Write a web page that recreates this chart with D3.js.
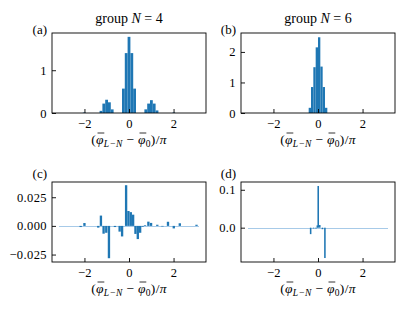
<!DOCTYPE html>
<html>
<head>
<meta charset="utf-8">
<script src="https://cdn.jsdelivr.net/npm/d3@7"></script>
<style>
  body { margin: 0; background: #fff; }
  text { font-family: "Liberation Serif", serif; fill: #000; }
</style>
</head>
<body>
<svg id="fig" width="407" height="313"></svg>
<script>
// histogram data, x in units of pi
var xLimit = [-3.456, 3.456];
var xTicks = [-2, 0, 2];

// (a) group N = 4, density
var aCenters = [-2.01, -1.257, -1.131, -1.005, -0.880, -0.754, -0.251, -0.126, 0, 0.126, 0.251, 0.754, 0.880, 1.005, 1.131, 1.257, 2.01];
var aValues  = [0.01, 0.05, 0.22, 0.31, 0.25, 0.085, 0.57, 1.40, 1.78, 1.40, 0.57, 0.085, 0.22, 0.30, 0.22, 0.06, 0.01];
var aWidth = 0.1257;
var aTicks = [0, 1];

// (b) group N = 6, density
var bCenters = [-0.366, -0.262, -0.157, -0.052, 0.052, 0.157, 0.262, 0.366];
var bValues  = [0.17, 0.85, 1.50, 2.15, 2.48, 1.52, 0.85, 0.17];
var bWidth = 0.1047;
var bTicks = [0, 1, 2];

// (c) difference for N = 4
var cCenters = [-2.17, -2.0, -1.38, -1.26, -1.14, -1.02, -0.90, -0.63, -0.42, -0.31, -0.13, -0.025, 0.08, 0.185, 0.29, 0.395, 0.50, 0.61, 0.72, 0.87, 0.99, 1.27, 1.5, 1.75, 2.01, 2.28, 3.03];
var cValues  = [-0.001, 0.0025, -0.0015, 0.009, -0.0068, -0.006, -0.0282, -0.001, -0.005, -0.0092, 0.0355, 0.013, 0.012, 0.0098, -0.007, -0.0115, -0.006, -0.0007, 0.0006, 0.0037, 0.0026, 0.001, -0.0005, 0.0036, -0.0022, 0.0023, 0.001];
var cWidth = 0.105;
var cTicks = [-0.025, 0, 0.025];

// (d) difference for N = 6
var dCenters = [-0.33, -0.2, -0.09, -0.03, 0.01, 0.08, 0.2, 0.31];
var dValues  = [-0.017, -0.002, -0.002, 0.006, 0.11, 0.007, -0.004, -0.08];
var dWidth = 0.07;
var dTicks = [0, 0.1];

var blue = "#1f77b4";
var pale = "#a7cae8";
var svg = d3.select("#fig");

function panel(opt) {
  var x = d3.scaleLinear().domain(xLimit).range([opt.left, opt.left + 154]);
  var y = d3.scaleLinear().domain(opt.yDomain).range([opt.top + 80, opt.top]);
  var g = svg.append("g");

  if (opt.zeroLine) {
    // faint baseline spanning -pi..pi
    g.append("rect")
      .attr("x", x(-Math.PI)).attr("width", x(Math.PI) - x(-Math.PI))
      .attr("y", Math.round(y(0))).attr("height", 1)
      .attr("fill", pale);
  }

  g.selectAll("rect.bar").data(opt.centers).enter().append("rect")
    .attr("class", "bar")
    .attr("x", function(c) { return x(c - opt.width / 2); })
    .attr("width", function() { return x(opt.width) - x(0); })
    .attr("y", function(c, i) { return y(Math.max(0, opt.values[i])); })
    .attr("height", function(c, i) { return Math.abs(y(opt.values[i]) - y(0)); })
    .attr("fill", blue);

  var xa = g.append("g").attr("transform", "translate(0," + (opt.top + 80) + ")")
    .call(d3.axisBottom(x).tickValues(xTicks).tickSize(-4).tickPadding(6).tickFormat(d3.format("d")));
  var ya = g.append("g").attr("transform", "translate(" + opt.left + ",0)")
    .call(d3.axisLeft(y).tickValues(opt.yTicks).tickSize(-4).tickPadding(5).tickFormat(d3.format(opt.fmt)));
  [xa, ya].forEach(function(a) {
    a.select(".domain").remove();
    a.selectAll("text").style("font-family", "Liberation Serif, serif").style("font-size", "12.5px")
      .style("letter-spacing", "0.4px");
    a.selectAll("line").attr("stroke", "#000").attr("stroke-width", 0.9);
  });

  g.append("rect")
    .attr("x", opt.left).attr("y", opt.top).attr("width", 154).attr("height", 80)
    .attr("fill", "none").attr("stroke", "#000").attr("stroke-width", 0.9);

  g.append("text").attr("x", opt.left - 5).attr("y", opt.top + opt.tagDy)
    .attr("text-anchor", "end").style("font-size", "13px").text(opt.tag);

  if (opt.title) {
    var t = g.append("text").attr("x", opt.left + 77).attr("y", opt.top - 10)
      .attr("text-anchor", "middle").style("font-size", "14px");
    t.append("tspan").text("group ");
    t.append("tspan").style("font-style", "italic").text("N");
    t.append("tspan").text(" = " + opt.title);
  }

  var base = opt.top + 111;
  var lab = g.append("text").attr("x", opt.left + 77).attr("y", base)
    .attr("text-anchor", "middle").style("font-size", "13.5px").style("letter-spacing", "0.3px");
  lab.append("tspan").text("(");
  lab.append("tspan").style("font-style", "italic").text("φ");
  lab.append("tspan").style("font-style", "italic").style("font-size", "9.5px").attr("dy", 3).text("L−N");
  lab.append("tspan").attr("dy", -3).text(" − ");
  lab.append("tspan").style("font-style", "italic").text("φ");
  lab.append("tspan").style("font-size", "9.5px").attr("dy", 3).text("0");
  lab.append("tspan").attr("dy", -3).text(")/");
  lab.append("tspan").style("font-style", "italic").text("π");

  // overlines above both phi glyphs
  [1, 8].forEach(function(ci) {
    var box = lab.node().getExtentOfChar(ci);
    g.append("line")
      .attr("x1", box.x + 1.5).attr("x2", box.x + box.width + 0.5)
      .attr("y1", base - 11).attr("y2", base - 11)
      .attr("stroke", "#000").attr("stroke-width", 0.8);
  });
}

panel({ left: 52, top: 33, yDomain: [0, 1.87], yTicks: aTicks, fmt: "d", centers: aCenters, values: aValues, width: aWidth, tag: "(a)", tagDy: 1, title: "4" });
panel({ left: 241, top: 33, yDomain: [0, 2.62], yTicks: bTicks, fmt: "d", centers: bCenters, values: bValues, width: bWidth, tag: "(b)", tagDy: 1, title: "6" });
panel({ left: 52, top: 182, yDomain: [-0.0315, 0.0383], yTicks: cTicks, fmt: ".3f", centers: cCenters, values: cValues, width: cWidth, tag: "(c)", tagDy: -4, zeroLine: true });
panel({ left: 241, top: 182, yDomain: [-0.0905, 0.1205], yTicks: dTicks, fmt: ".1f", centers: dCenters, values: dValues, width: dWidth, tag: "(d)", tagDy: -4, zeroLine: true });
</script>
</body>
</html>
